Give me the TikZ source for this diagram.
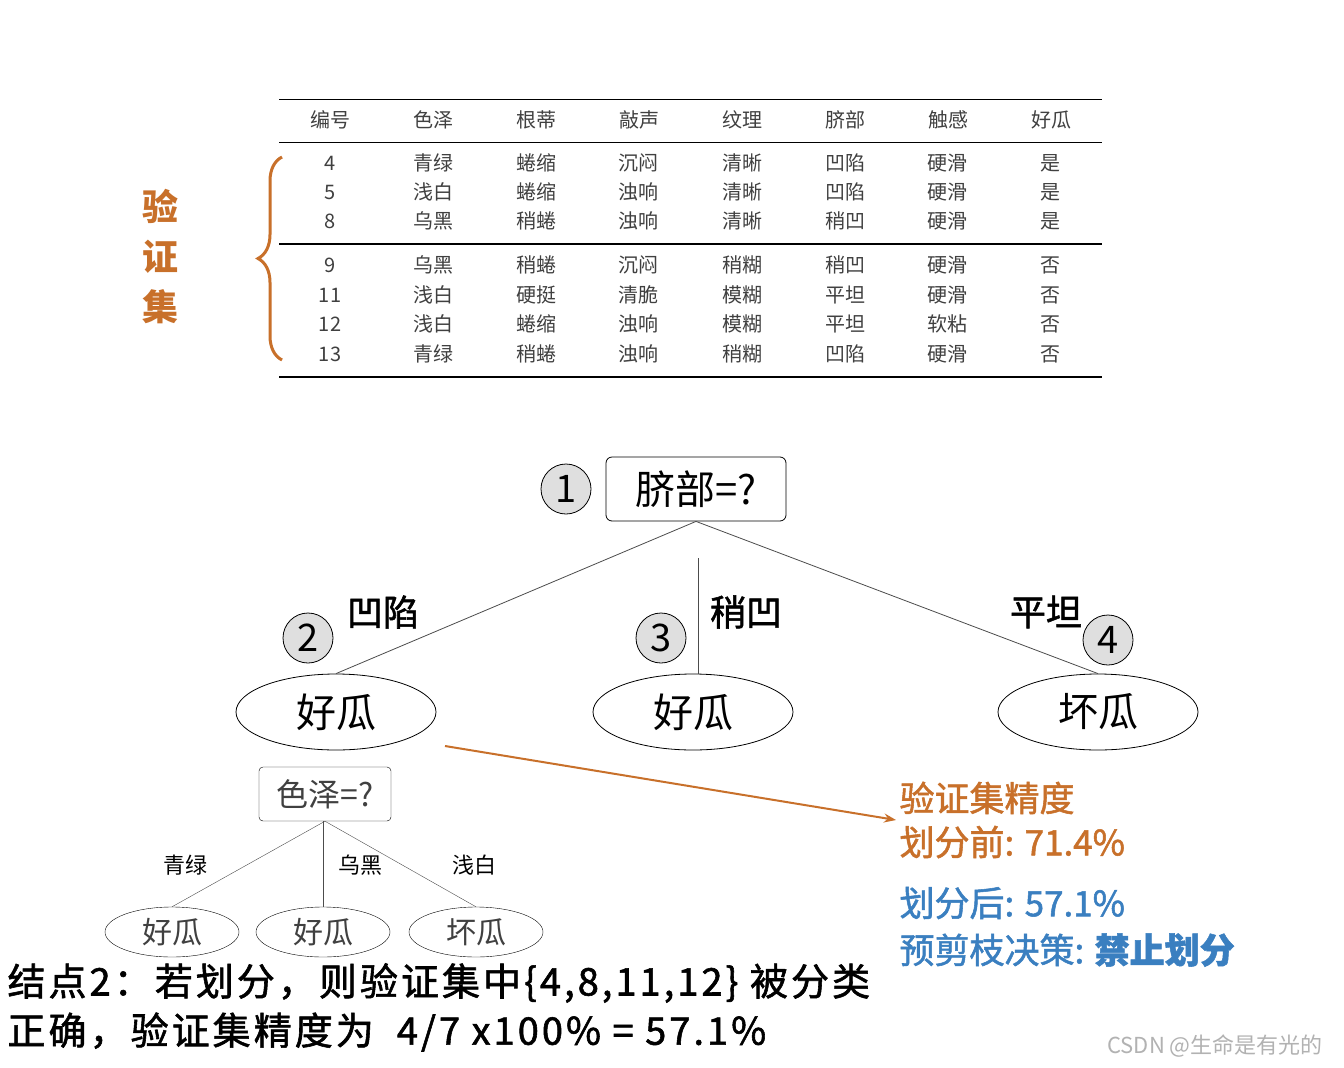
\documentclass[tikz,border=0pt]{standalone}
\usepackage{fontspec}
\setmainfont{Noto Sans CJK SC}
\newfontfamily\notefont[FakeBold=1.5]{Noto Sans CJK SC}
\newfontfamily\widefont[FakeBold=1.5, LetterSpace=8]{Noto Sans CJK SC}
\usetikzlibrary{positioning, arrows.meta, shapes.geometric, decorations.pathreplacing}
\definecolor{valorange}{HTML}{C8702A}
\definecolor{valblue}{HTML}{3A7FC0}
\tikzset{
    x=1pt, y=-1pt,
    >=Stealth, % arrow heads
    tcell/.style={font=\fontsize{20}{22}\selectfont, text=black!75},
    numcirc/.style={circle, draw, thick, fill=gray!25, minimum size=50pt, inner sep=0pt, font=\fontsize{38}{40}\selectfont},
    bigleaf/.style={ellipse, draw, thick, minimum width=200pt, minimum height=76pt, font=\fontsize{40}{44}\selectfont},
    smallleaf/.style={ellipse, draw, minimum width=134pt, minimum height=50pt, font=\fontsize{30}{32}\selectfont, text=black!75},
    branch/.style={font=\notefont\fontsize{36}{38}\selectfont},
    edge/.style={draw=black!70, thick},
}
\begin{document}
\begin{tikzpicture}
\useasboundingbox[fill=white] (0,0) rectangle (1344,1068);
% table
\draw[thick] (279,99) -- (1102,99);
\draw[thick] (279,142) -- (1102,142);
\draw[very thick] (279,244) -- (1102,244);
\draw[ultra thick] (279,377) -- (1102,377);
\foreach \t [count=\i] in {编号,色泽,根蒂,敲声,纹理,脐部,触感,好瓜}
    \node[tcell] at (330+103*\i-103,120) {\t};
\foreach \y/\a/\b/\c/\d/\e/\f/\g/\h in {
    163/4/青绿/蜷缩/沉闷/清晰/凹陷/硬滑/是,
    192/5/浅白/蜷缩/浊响/清晰/凹陷/硬滑/是,
    221/8/乌黑/稍蜷/浊响/清晰/稍凹/硬滑/是,
    265/9/乌黑/稍蜷/沉闷/稍糊/稍凹/硬滑/否,
    295/11/浅白/硬挺/清脆/模糊/平坦/硬滑/否,
    324/12/浅白/蜷缩/浊响/模糊/平坦/软粘/否,
    354/13/青绿/稍蜷/浊响/稍糊/凹陷/硬滑/否}{
    \node[tcell] at (330,\y) {\a};  \node[tcell] at (433,\y) {\b};
    \node[tcell] at (536,\y) {\c};  \node[tcell] at (638,\y) {\d};
    \node[tcell] at (742,\y) {\e};  \node[tcell] at (845,\y) {\f};
    \node[tcell] at (947,\y) {\g};  \node[tcell] at (1050,\y) {\h};
}
\draw[valorange, line width=3pt, decorate, decoration={brace, amplitude=24pt}] (282,360) -- (282,157);
\node[valorange, font=\bfseries\fontsize{36}{50}\selectfont, align=center] (valset) at (160,257) {验\\证\\集};
% tree
\node[draw, thick, rounded corners=6pt, minimum width=180pt, minimum height=64pt, font=\fontsize{40}{44}\selectfont] (root) at (696,489) {脐部=?};
\node[numcirc] (c1) at (566,489) {1};
\node[bigleaf] (n2) at (336,712) {好瓜};
\node[bigleaf] (n3) at (693,712) {好瓜};
\node[bigleaf] (n4) at (1098,712) {坏瓜};
\coordinate (mid) at (698,558);
\draw[edge] (root.south) -- (n2.north);
\draw[edge] (mid) -- (n3.north -| mid);
\draw[edge] (root.south) -- (n4.north);
\node[numcirc] (c2) at (308,638) {2};
\node[numcirc] (c3) at (661,638) {3};
\node[numcirc] (c4) at (1108,640) {4};
\node[branch] (b2) at (383,612) {凹陷};
\node[branch] (b3) at (746,612) {稍凹};
\node[branch] (b4) at (1046,612) {平坦};
% subtree of node 2
\node[draw, rounded corners=4pt, minimum width=132pt, minimum height=54pt, font=\fontsize{32}{34}\selectfont, text=black!75] (sub) at (325,794) {色泽=?};
\node[smallleaf] (l1) at (172,932) {好瓜};
\node[smallleaf] (l2) at (323,932) {好瓜};
\node[smallleaf] (l3) at (476,932) {坏瓜};
\draw[edge, thin] (sub.south) -- (l1.north);
\draw[edge, thin] (sub.south -| l2) -- (l2.north);
\draw[edge, thin] (sub.south) -- (l3.north);
\node[font=\fontsize{22}{24}\selectfont] (s1) at (185,865) {青绿};
\node[font=\fontsize{22}{24}\selectfont] (s2) at (360,865) {乌黑};
\node[font=\fontsize{22}{24}\selectfont] (s3) at (474,865) {浅白};
% accuracy
\node[anchor=west, valorange, font=\notefont\fontsize{35}{44}\selectfont, align=left] (acc) at (896,820) {验证集精度\\划分前: 71.4\%};
\node[anchor=west, valblue, font=\notefont\fontsize{35}{37}\selectfont] (after) at (896,903) {划分后: 57.1\%};
\node[anchor=west, valblue, font=\notefont\fontsize{35}{37}\selectfont] (dec) at (896,950) {预剪枝决策: \textbf{禁止划分}};
\coordinate (arrs) at (445,746);
\draw[->, valorange, line width=2pt] (arrs) -- (acc.west);
\node[anchor=west, font=\widefont\fontsize{38}{40}\selectfont] (note1) at (4,983) {结点2：若划分，则验证集中\{4,8,11,12\} 被分类};
\node[anchor=west, font=\widefont\fontsize{38}{40}\selectfont] (note2) at (4,1032) {正确，验证集精度为~~4/7 x100\% = 57.1\%};
\node[text=gray!60, font=\fontsize{22}{24}\selectfont] (mark) at (1215,1046) {CSDN @生命是有光的};
\end{tikzpicture}
\end{document}
